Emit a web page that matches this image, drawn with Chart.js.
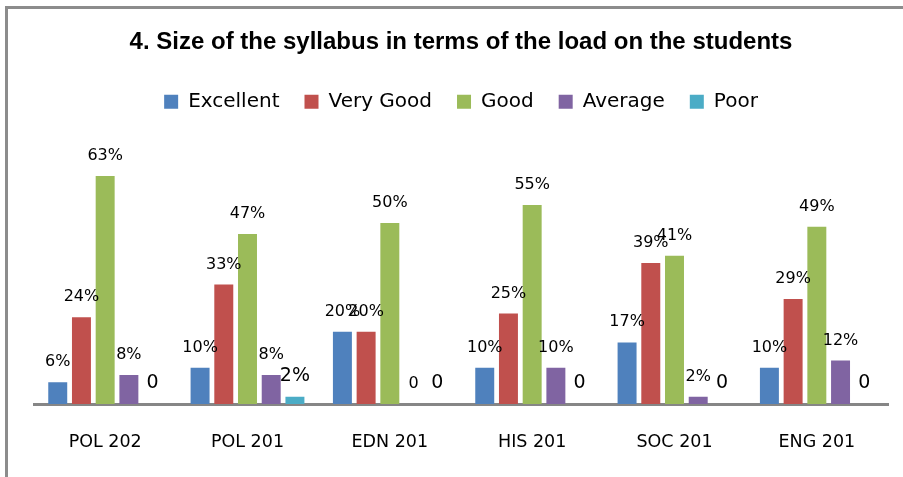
<!DOCTYPE html>
<html>
<head>
<meta charset="utf-8">
<script src="https://cdn.jsdelivr.net/npm/chart.js@4/dist/chart.umd.min.js"></script>
<style>
  html, body { margin: 0; padding: 0; background: #fff; overflow: hidden; }
  #frame {
    position: absolute; left: 5px; top: 6px; width: 1000px; height: 600px;
    border-left: 3px solid #8c8c8c; border-top: 3px solid #8c8c8c;
  }
  #wrap { position: absolute; left: 0; top: 0; width: 903px; height: 477px; }
</style>
</head>
<body>
<div id="frame"></div>
<div id="wrap"><canvas id="chart" width="903" height="477"></canvas></div>
<script>
// cursos avaliados e percentuais por resposta
const courses = ['POL 202', 'POL 201', 'EDN 201', 'HIS 201', 'SOC 201', 'ENG 201'];
const excellent = [6, 10, 20, 10, 17, 10];
const veryGood  = [24, 33, 20, 25, 39, 29];
const good      = [63, 47, 50, 55, 41, 49];
const average   = [8, 8, 0, 10, 2, 12];
const poor      = [0, 2, 0, 0, 0, 0];

const seriesNames  = ['Excellent', 'Very Good', 'Good', 'Average', 'Poor'];
const seriesColors = ['#4F81BD', '#C0504D', '#9BBB59', '#8064A2', '#4BACC6'];

// rótulos em cima das barras (0 fica sem %)
const barLabels = {
  id: 'barLabels',
  afterDatasetsDraw(chart) {
    const ctx = chart.ctx;
    ctx.save();
    ctx.fillStyle = '#000';
    ctx.textAlign = 'center';
    ctx.textBaseline = 'alphabetic';
    chart.data.datasets.forEach((ds, i) => {
      const meta = chart.getDatasetMeta(i);
      const big = ds.label === 'Poor';
      ctx.font = (big ? '19px' : '16px') + ' "DejaVu Sans"';
      meta.data.forEach((bar, j) => {
        const v = ds.data[j];
        const txt = v === 0 ? '0' : v + '%';
        ctx.fillText(txt, bar.x, bar.y - 16);
      });
    });
    ctx.restore();
  }
};

const allSeries = [excellent, veryGood, good, average, poor];

new Chart(document.getElementById('chart').getContext('2d'), {
  type: 'bar',
  data: {
    labels: courses,
    datasets: allSeries.map((d, i) => ({
      label: seriesNames[i],
      data: d,
      backgroundColor: seriesColors[i],
      borderWidth: 0,
      categoryPercentage: 0.833,
      barPercentage: 0.8
    }))
  },
  options: {
    responsive: false,
    animation: false,
    layout: { padding: { left: 34, right: 15, top: 0, bottom: -4 } },
    plugins: {
      title: {
        display: true,
        text: '4. Size of the syllabus in terms of the load on the students',
        color: '#000',
        font: { family: 'Liberation Sans', size: 24, weight: 'bold' },
        padding: { top: 28, bottom: 10 }
      },
      legend: {
        position: 'top',
        labels: {
          color: '#000',
          font: { family: 'DejaVu Sans', size: 20 },
          boxWidth: 14,
          boxHeight: 14,
          padding: 25
        }
      },
      tooltip: { enabled: false }
    },
    scales: {
      x: {
        grid: { display: false, drawTicks: false },
        border: { display: true, color: '#868686', width: 3 },
        ticks: {
          color: '#000',
          padding: 28,
          font: { family: 'DejaVu Sans', size: 17.5 }
        }
      },
      y: {
        display: false,
        min: 0,
        max: 78
      }
    }
  },
  plugins: [barLabels]
});
</script>
</body>
</html>
